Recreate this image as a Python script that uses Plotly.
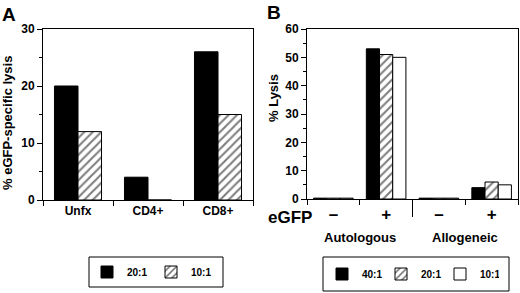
import plotly.graph_objects as go

W, H = 520, 293

# Panel A data
a_categories = ["Unfx", "CD4+", "CD8+"]
a_20 = [20, 4, 26]
a_10 = [12, 0, 15]

# Panel B data
b_categories = ["Auto-", "Auto+", "Allo-", "Allo+"]
b_ticktext = ["\u2013", "+", "\u2013", "+"]
b_40 = [0.3, 53, 0.3, 4]
b_20 = [0.3, 51, 0.3, 6]
b_10 = [0.3, 50, 0.3, 5]
b_groups = ["Autologous", "Allogeneic"]

FONT = "Liberation Sans, Arial, Helvetica, sans-serif"


def px_x(p):
    return p / W


def px_y(p):
    return (H - p) / H


hatch = dict(shape="/", fgcolor="black", bgcolor="white", size=6, solidity=0.35)
line = dict(color="black", width=1)

fig = go.Figure()

aw = 0.336
fig.add_trace(go.Bar(x=a_categories, y=a_20, name="20:1", xaxis="x", yaxis="y",
                     marker=dict(color="black", line=line), width=aw, offset=-aw,
                     legend="legend"))
fig.add_trace(go.Bar(x=a_categories, y=a_10, name="10:1", xaxis="x", yaxis="y",
                     marker=dict(color="white", line=line, pattern=hatch), width=aw, offset=0,
                     legend="legend"))

bw = 0.25
fig.add_trace(go.Bar(x=b_categories, y=b_40, name="40:1", xaxis="x2", yaxis="y2",
                     marker=dict(color="black", line=line), width=bw, offset=-0.375,
                     legend="legend2"))
fig.add_trace(go.Bar(x=b_categories, y=b_20, name="20:1", xaxis="x2", yaxis="y2",
                     marker=dict(color="white", line=line, pattern=hatch), width=bw, offset=-0.125,
                     legend="legend2"))
fig.add_trace(go.Bar(x=b_categories, y=b_10, name="10:1", xaxis="x2", yaxis="y2",
                     marker=dict(color="white", line=line), width=bw, offset=0.125,
                     legend="legend2"))

axis_common = dict(showline=True, linecolor="black", linewidth=1, mirror=True,
                   showgrid=False, zeroline=False, ticks="outside", tickcolor="black",
                   ticklen=5, tickwidth=1, automargin=False)
tickfont = dict(family=FONT, size=12, color="black", weight="bold")

fig.update_layout(
    width=W, height=H, autosize=False,
    margin=dict(l=0, r=0, t=0, b=0, autoexpand=False),
    paper_bgcolor="white", plot_bgcolor="white",
    barmode="overlay",
    font=dict(family=FONT, color="black"),
    xaxis=dict(domain=[px_x(43), px_x(253)], anchor="y", type="category",
               tickson="boundaries", tickfont=tickfont, **axis_common),
    yaxis=dict(domain=[px_y(200), px_y(29)], anchor="x", range=[0, 30], dtick=10,
               tickfont=tickfont, minor=dict(dtick=5, ticklen=3, ticks="outside", tickcolor="black"),
               **axis_common),
    xaxis2=dict(domain=[px_x(307), px_x(518)], anchor="y2", type="category",
                tickson="boundaries", tickvals=b_categories, ticktext=b_ticktext,
                tickfont=dict(family=FONT, size=17, color="black", weight="bold"),
                **axis_common),
    yaxis2=dict(domain=[px_y(199), px_y(29)], anchor="x2", range=[0, 60], dtick=10,
                tickfont=tickfont, minor=dict(dtick=5, ticklen=3, ticks="outside", tickcolor="black"),
                **axis_common),
    legend=dict(orientation="h", x=px_x(87), y=px_y(272), xanchor="left", yanchor="middle",
                bgcolor="rgba(0,0,0,0)", borderwidth=0, entrywidth=19,
                font=dict(family=FONT, size=10, color="black", weight="bold")),
    legend2=dict(orientation="h", x=px_x(322), y=px_y(274), xanchor="left", yanchor="middle",
                 bgcolor="rgba(0,0,0,0)", borderwidth=0, entrywidth=14,
                 font=dict(family=FONT, size=10, color="black", weight="bold")),
    showlegend=True,
)

# legend boxes
fig.add_shape(type="rect", xref="paper", yref="paper", x0=px_x(89), x1=px_x(223),
              y0=px_y(287), y1=px_y(257), line=dict(color="black", width=1))
fig.add_shape(type="rect", xref="paper", yref="paper", x0=px_x(323), x1=px_x(509),
              y0=px_y(291), y1=px_y(257), line=dict(color="black", width=1))
# divider between groups in panel B
fig.add_shape(type="line", xref="x2", yref="paper", x0=1.5, x1=1.5,
              y0=px_y(200), y1=px_y(217), line=dict(color="black", width=1))

annots = [
    dict(text="A", x=px_x(9), y=px_y(14), font=dict(size=19)),
    dict(text="B", x=px_x(274), y=px_y(13), font=dict(size=19)),
    dict(text="% eGFP-specific lysis", x=px_x(7), y=px_y(123), textangle=-90, font=dict(size=13)),
    dict(text="% Lysis", x=px_x(273), y=px_y(98), textangle=-90, font=dict(size=13)),
    dict(text="eGFP", x=px_x(290), y=px_y(217), font=dict(size=17)),
]
for a in annots:
    f = dict(family=FONT, color="black", weight="bold")
    f.update(a.pop("font"))
    fig.add_annotation(xref="paper", yref="paper", showarrow=False,
                       xanchor="center", yanchor="middle", font=f, **a)

for i, g in enumerate(b_groups):
    fig.add_annotation(xref="x2", yref="paper", x=0.5 + 2 * i, y=px_y(237), text=g,
                       showarrow=False, xanchor="center", yanchor="middle",
                       font=dict(family=FONT, size=13, color="black", weight="bold"))

fig.write_html("out.html", config={"displayModeBar": False},
               post_script="document.body.style.margin='0';document.body.style.overflow='hidden';")
